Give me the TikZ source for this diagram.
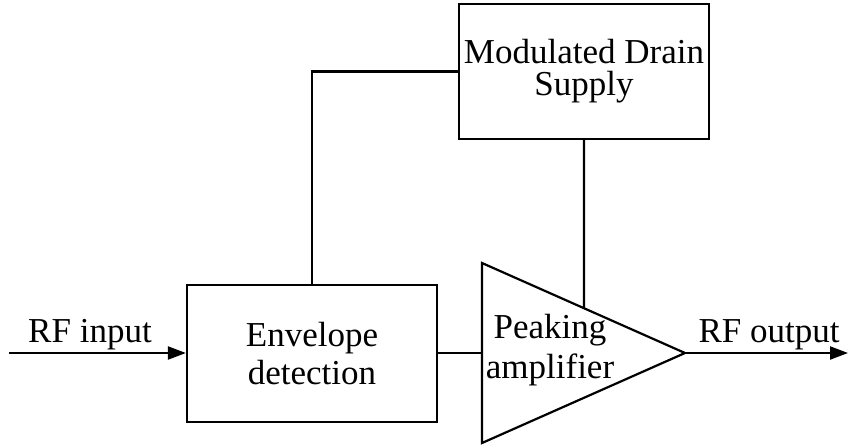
\documentclass[tikz,border=0pt]{standalone}
\usepackage{fontspec}
\setmainfont{Liberation Serif}
\usetikzlibrary{arrows.meta,calc}
\begin{document}
\begin{tikzpicture}[x=1pt,y=-1pt,
  wire/.style={line width=2.2pt},
  arr/.style={wire,-{Triangle[length=18pt,width=13pt]}},
  blockbox/.style={draw,line width=2.2pt,inner sep=0pt,align=center},
  lbl/.style={inner sep=0pt,anchor=base,font=\fontsize{35}{38}\selectfont}]
\useasboundingbox (0,0) rectangle (849,445);
% blocks
\node[blockbox,minimum width=250pt,minimum height=135pt,
      font=\fontsize{35}{32}\selectfont] (drain) at (584,71.5) {Modulated Drain\\Supply};
\node[blockbox,minimum width=250pt,minimum height=137pt,
      font=\fontsize{35}{38}\selectfont] (env) at (312,353.5) {Envelope\\detection};
% amplifier triangle
\coordinate (tl) at (482,263);
\coordinate (bl) at (482,443);
\coordinate (tip) at (685,353);
\draw[wire,line join=miter] (tl) -- (tip) -- (bl) -- cycle;
\node[inner sep=0pt,align=center,font=\fontsize{35}{40}\selectfont] (amp) at (550,350) {Peaking\\amplifier};
\coordinate (ampin) at (482,353);
\coordinate (ampv) at ($(tl)!0.5025!(tip)$);
% ends
\coordinate (in) at (9,353);
\coordinate (out) at (848,353);
% labels
\node[lbl] (inlbl) at (90,342) {RF input};
\node[lbl] (outlbl) at (769,342) {RF output};
% connectors
\draw[arr] (in) -- (in -| env.west);
\draw[wire] (env.east |- ampin) -- (ampin);
\draw[wire] (env.north) |- (drain.west);
\draw[wire] (drain.south) -- (ampv);
\draw[arr] (tip) -- (out);
\end{tikzpicture}
\end{document}
